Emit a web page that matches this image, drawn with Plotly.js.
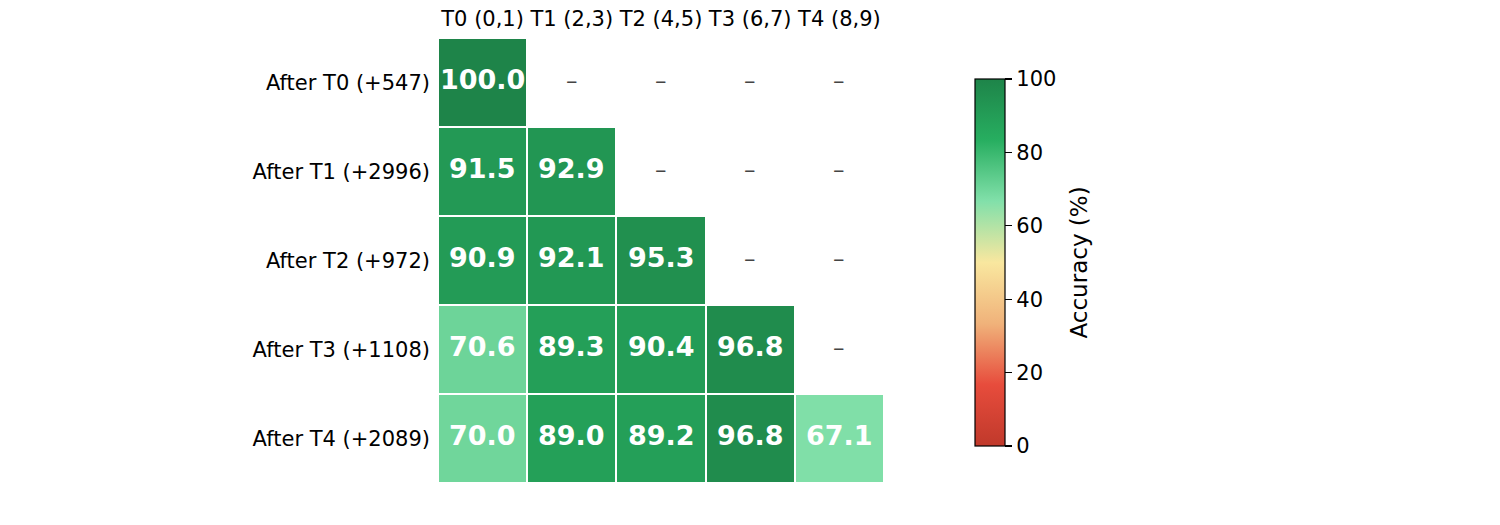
<!DOCTYPE html>
<html>
<head>
<meta charset="utf-8">
<script src="https://cdn.plot.ly/plotly-3.0.1.min.js"></script>
<style>html,body{margin:0;padding:0;background:#fff;}#chart{width:1500px;height:525px;}</style>
</head>
<body>
<div id="chart"></div>
<script>
const taskLabels = ['T0 (0,1)', 'T1 (2,3)', 'T2 (4,5)', 'T3 (6,7)', 'T4 (8,9)'];
const stageLabels = ['After T0 (+547)', 'After T1 (+2996)', 'After T2 (+972)', 'After T3 (+1108)', 'After T4 (+2089)'];
const accAfterT0 = [100.0, null, null, null, null];
const accAfterT1 = [91.5, 92.9, null, null, null];
const accAfterT2 = [90.9, 92.1, 95.3, null, null];
const accAfterT3 = [70.6, 89.3, 90.4, 96.8, null];
const accAfterT4 = [70.0, 89.0, 89.2, 96.8, 67.1];
const accuracy = [accAfterT0, accAfterT1, accAfterT2, accAfterT3, accAfterT4];
const colorTicks = [0, 20, 40, 60, 80, 100];

const cmapColors = ['#c0392b', '#e74c3c', '#f0b27a', '#f9e79f', '#82e0aa', '#27ae60', '#1e8449'];
const colorscale = cmapColors.map((c, i) => [i / (cmapColors.length - 1), c]);

const FONT = 'DejaVu Sans, Verdana, sans-serif';

const annotations = [];
accuracy.forEach((row, i) => {
  row.forEach((v, j) => {
    if (v === null) {
      annotations.push({x: taskLabels[j], y: stageLabels[i], xref: 'x', yref: 'y', text: '–',
        showarrow: false, yshift: 2, font: {family: FONT, size: 23, color: '#444444'}});
    } else {
      annotations.push({x: taskLabels[j], y: stageLabels[i], xref: 'x', yref: 'y', text: '<b>' + v.toFixed(1) + '</b>',
        showarrow: false, yshift: 3, font: {family: FONT, size: 27, color: '#ffffff'}});
    }
  });
});

annotations.push({xref: 'paper', yref: 'paper', x: 1.435, y: 0.4955, xanchor: 'center', yanchor: 'middle',
  text: 'Accuracy (%)', textangle: -90, showarrow: false, font: {family: FONT, size: 23, color: '#000'}});

const trace = {
  type: 'heatmap',
  x: taskLabels,
  y: stageLabels,
  z: accuracy,
  zmin: 0, zmax: 100,
  colorscale: colorscale,
  xgap: 2, ygap: 2,
  hoverongaps: false,
  colorbar: {
    x: 1.204, xanchor: 'left', xpad: 0,
    y: 0.4955, yanchor: 'middle', ypad: 0,
    len: 367, lenmode: 'pixels',
    thickness: 30, thicknessmode: 'pixels',
    outlinewidth: 1.2, outlinecolor: '#000',
    ticks: 'outside', ticklen: 7, tickwidth: 1.2, tickcolor: '#000',
    tickvals: colorTicks, ticktext: colorTicks.map(String),
    tickfont: {family: FONT, size: 21, color: '#000'},
    ticklabelstandoff: 2
  }
};

const layout = {
  width: 1500, height: 525,
  margin: {l: 438, r: 616, t: 38, b: 42},
  paper_bgcolor: '#fff', plot_bgcolor: '#fff',
  font: {family: FONT, color: '#000'},
  xaxis: {side: 'top', showgrid: false, zeroline: false, showline: false, ticks: '',
    tickfont: {family: FONT, size: 21, color: '#000'}, ticklabelstandoff: 7, fixedrange: true},
  yaxis: {autorange: 'reversed', showgrid: false, zeroline: false, showline: false, ticks: '',
    tickfont: {family: FONT, size: 21, color: '#000'}, ticklabelstandoff: 7, fixedrange: true},
  annotations: annotations,
  showlegend: false
};

Plotly.newPlot('chart', [trace], layout, {displayModeBar: false, staticPlot: true});
</script>
</body>
</html>
